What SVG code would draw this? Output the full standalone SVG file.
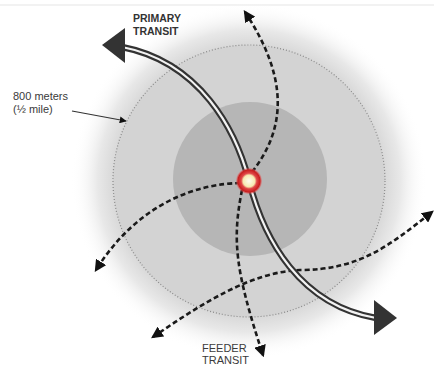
<svg xmlns="http://www.w3.org/2000/svg" width="434" height="375" viewBox="0 0 434 375">
<defs>
<radialGradient id="glow" cx="0.5" cy="0.5" r="0.5">
<stop offset="0.76" stop-color="#d8d8d8"/>
<stop offset="0.85" stop-color="#e8e8e8"/>
<stop offset="1" stop-color="#ffffff" stop-opacity="0"/>
</radialGradient>
<radialGradient id="stn" cx="0.5" cy="0.5" r="0.5">
<stop offset="0" stop-color="#fffdf0"/>
<stop offset="0.45" stop-color="#f6eab0"/>
<stop offset="0.6" stop-color="#e04848"/>
<stop offset="0.85" stop-color="#c81e1e"/>
<stop offset="1" stop-color="#e86060" stop-opacity="0.3"/>
</radialGradient>
<marker id="dh" viewBox="0 0 10 10" refX="8" refY="5" markerWidth="4.6" markerHeight="4.6" orient="auto-start-reverse" markerUnits="strokeWidth">
<path d="M0,0 L10,5 L0,10 Z" fill="#111"/>
</marker>
<marker id="lh" viewBox="0 0 10 10" refX="9" refY="5" markerWidth="7" markerHeight="7" orient="auto" markerUnits="userSpaceOnUse">
<path d="M0,0 L10,5 L0,10 Z" fill="#111"/>
</marker>
</defs>
<style>
.feed{fill:none;stroke:#1a1a1a;stroke-width:2.6;stroke-dasharray:5 3}
.lbl{font-family:"Liberation Sans",Arial,sans-serif;font-size:11px;fill:#3a3a3a}
.bold{font-weight:bold;font-size:10.5px;fill:#333}
</style>
<rect width="434" height="375" fill="#fff"/>
<line x1="0" y1="5" x2="434" y2="5" stroke="#eeeeee" stroke-width="1.5"/>
<g id="walkshed">
<circle cx="249" cy="181" r="178" fill="url(#glow)"/>
<circle cx="249" cy="181" r="136" fill="#d3d3d3" stroke="#8a8a8a" stroke-width="1.2" stroke-dasharray="1 2"/>
</g>
<g id="core">
<circle cx="250" cy="179" r="77" fill="#b6b6b6"/>
</g>
<g id="connectors">
<path class="feed" d="M252 172 C285 130 290 80 245 12" marker-end="url(#dh)"/>
<path class="feed" d="M240 183 C200 184 140 200 96 270" marker-end="url(#dh)"/>
<path class="feed" d="M242 190 C232 240 235 270 263 355" marker-end="url(#dh)"/>
<path class="feed" d="M153 337 C200 305 250 272 300 270 C360 270 390 245 432 212" marker-start="url(#dh)" marker-end="url(#dh)"/>
<g id="primary">
<path d="M122 47 C200 62 236 130 249 181 C264 240 300 305 376 318" fill="none" stroke="#333" stroke-width="6.5"/>
<path d="M122 47 C200 62 236 130 249 181 C264 240 300 305 376 318" fill="none" stroke="#f2f2f2" stroke-width="2.2"/>
<path d="M102 45 L125 28 L125 63 Z" fill="#333"/>
<path d="M397 318 L374 300 L374 335 Z" fill="#333"/>
</g>
<line x1="72" y1="111" x2="126" y2="121" stroke="#333" stroke-width="1.2" marker-end="url(#lh)"/>
</g>
<g id="station">
<circle cx="249" cy="181" r="13" fill="url(#stn)"/>
</g>
<g id="labels">
<text class="lbl bold" x="133" y="22">PRIMARY</text>
<text class="lbl bold" x="133" y="35">TRANSIT</text>
<text class="lbl" x="13" y="100">800 meters</text>
<text class="lbl" x="13" y="113">(½ mile)</text>
<text class="lbl" x="202" y="352">FEEDER</text>
<text class="lbl" x="202" y="364">TRANSIT</text>
</g>
</svg>
